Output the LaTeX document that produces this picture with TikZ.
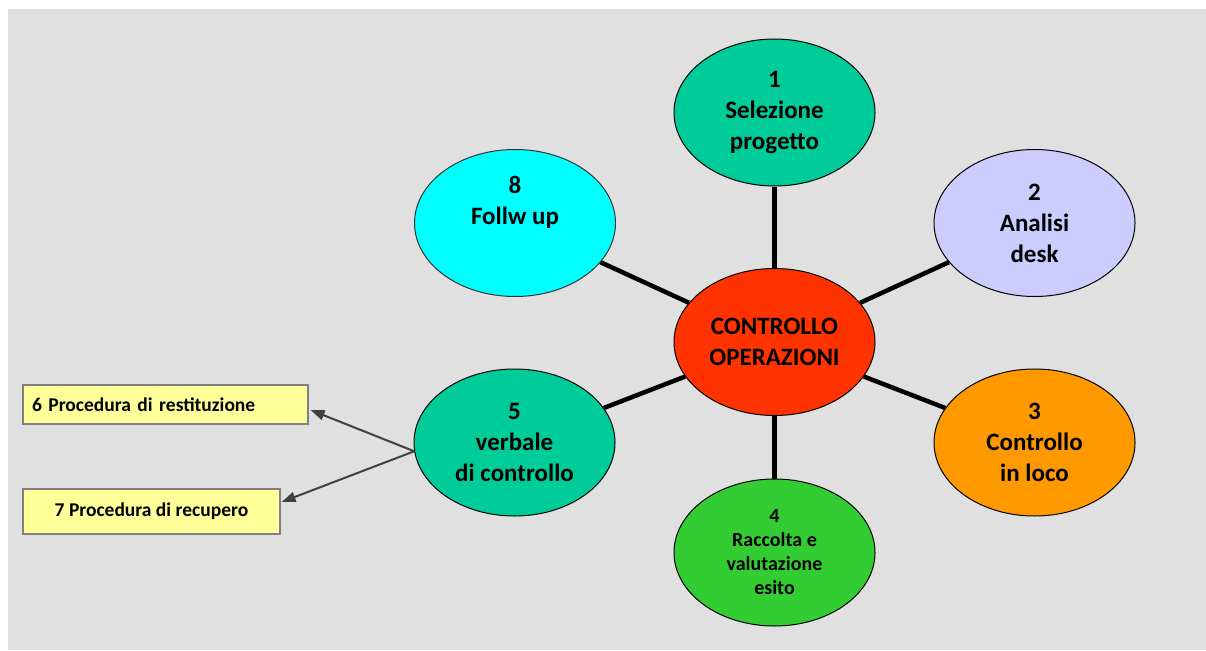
\documentclass[tikz,border=0pt]{standalone}
\usepackage{fontspec}
\setmainfont{Carlito}
\usetikzlibrary{shapes.geometric,arrows.meta}
\definecolor{bgGray}{HTML}{E0E0E0}
\definecolor{tealGreen}{HTML}{00CC99}
\definecolor{lavender}{HTML}{CCCCFF}
\definecolor{aqua}{HTML}{00FFFF}
\definecolor{redOrange}{HTML}{FF3300}
\definecolor{amber}{HTML}{FF9900}
\definecolor{leafGreen}{HTML}{33CC33}
\definecolor{paleYellow}{HTML}{FFFF99}
\definecolor{arrowGray}{HTML}{404040}

\begin{document}
\begin{tikzpicture}[x=1pt, y=-1pt,
    bubble/.style={draw, ellipse, line width=1pt, minimum width=201pt, minimum height=147pt,
        inner sep=0pt, align=center, font=\bfseries\fontsize{25}{31}\selectfont},
    spoke/.style={line width=4.5pt},
    note/.style={draw=gray, line width=1.2pt, fill=paleYellow, inner sep=0pt,
        font=\bfseries\fontsize{19.5}{22}\selectfont},
    arr/.style={-{Triangle[length=14pt,width=10pt]}, line width=2pt, draw=arrowGray, fill=arrowGray}]
    \useasboundingbox (0,0) rectangle (1206,650);
    \fill[bgGray] (8,9) rectangle (1206,650);

    \node[bubble, fill=redOrange] (ctrl) at (774.5,342) {CONTROLLO\\OPERAZIONI};
    \node[bubble, fill=tealGreen] (sel) at (774.5,112.5) {1\\Selezione\\progetto};
    \node[bubble, fill=lavender] (desk) at (1034.5,223) {2\\Analisi\\desk};
    \node[bubble, fill=amber] (loco) at (1034.5,442.5) {3\\Controllo\\in loco};
    \node[bubble, fill=leafGreen, font=\bfseries\fontsize{20}{24}\selectfont] (esito) at (774.5,552.5) {4\\Raccolta e\\valutazione\\esito};
    \node[bubble, fill=tealGreen] (verb) at (514.5,442.5) {5\\verbale\\di controllo};
    \node[bubble, fill=aqua, draw=black!80, text depth=45pt] (follw) at (515,223) {8\\Follw up};

    \node[note, minimum width=285pt, minimum height=39pt, text width=267pt, align=left] (restit) at (165.5,404.5) {6 Procedura di restituzione};
    \node[note, minimum width=257pt, minimum height=45pt, align=center] (recup) at (151.5,511.5) {7 Procedura di recupero};

    \draw[spoke] (ctrl) -- (sel);
    \draw[spoke] (ctrl) -- (desk);
    \draw[spoke] (ctrl) -- (loco);
    \draw[spoke] (ctrl) -- (esito);
    \draw[spoke] (ctrl) -- (verb);
    \draw[spoke] (ctrl) -- (follw);

    \coordinate (vsrc) at (verb.185);
    \draw[arr] (vsrc) -- ([xshift=2pt,yshift=-5.5pt]restit.east);
    \draw[arr] (vsrc) -- ([xshift=1pt,yshift=9.5pt]recup.east);
\end{tikzpicture}
\end{document}
